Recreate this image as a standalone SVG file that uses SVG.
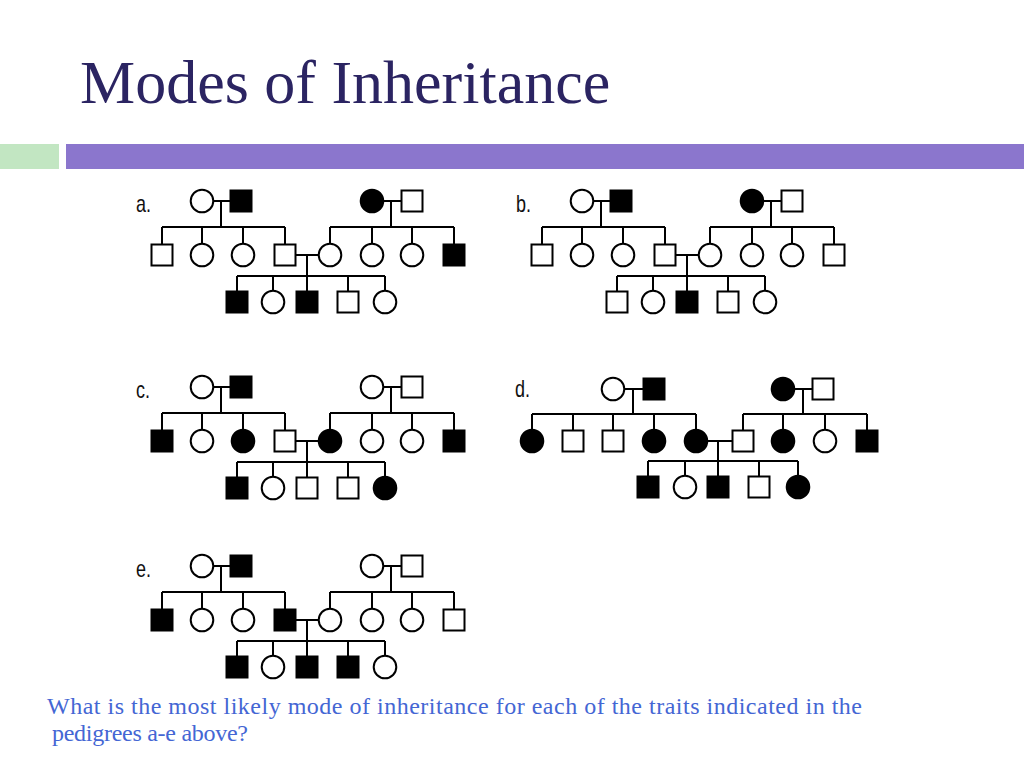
<svg xmlns="http://www.w3.org/2000/svg" xmlns:xlink="http://www.w3.org/1999/xlink" width="1024" height="768" viewBox="0 0 1024 768">
<style>
.ln{fill:none;stroke:#000;stroke-width:2}
.o{fill:#fff;stroke:#000;stroke-width:2}
.f{fill:#000;stroke:#000;stroke-width:2}
.lbl{font-family:"Liberation Sans",Arial,sans-serif;font-size:18px;fill:#111}
.title{font-family:"Liberation Serif","Times New Roman",serif;font-size:62px;fill:#2B2462}
.q{font-family:"Liberation Serif","Times New Roman",serif;font-size:24px;fill:#4466D4}
</style>
<rect width="1024" height="768" fill="#fff"/>
<text class="title" x="80" y="103">Modes of Inheritance</text>
<rect x="0" y="144" width="59" height="25" fill="#C2E6C2"/>
<rect x="66" y="144" width="958" height="25" fill="#8B76CD"/>

<!-- Pedigree a -->
<g id="pedigree-a">
<text class="lbl" transform="translate(136,212) scale(1,1.3)">a.</text>
<g id="a-connectors">
<path class="ln" d="M202 201H241M221 201V227M162 227H285M162 227V255M202 227V255M243 227V255M285 227V255M372 201H412M391 201V227M330 227H454M330 227V255M372 227V255M412 227V255M454 227V255M285 255H330M307 255V276M237 276H385M237 276V302M273 276V302M307 276V302M348 276V302M385 276V302"/>
</g>
<g id="a-I1"><circle class="o" cx="202" cy="201" r="11.3"/></g>
<g id="a-I2"><rect class="f" x="230.5" y="190.5" width="21" height="21"/></g>
<g id="a-I3"><circle class="f" cx="372" cy="201" r="11.3"/></g>
<g id="a-I4"><rect class="o" x="401.5" y="190.5" width="21" height="21"/></g>
<g id="a-II1"><rect class="o" x="151.5" y="244.5" width="21" height="21"/></g>
<g id="a-II2"><circle class="o" cx="202" cy="255" r="11.3"/></g>
<g id="a-II3"><circle class="o" cx="243" cy="255" r="11.3"/></g>
<g id="a-II4"><rect class="o" x="274.5" y="244.5" width="21" height="21"/></g>
<g id="a-II5"><circle class="o" cx="330" cy="255" r="11.3"/></g>
<g id="a-II6"><circle class="o" cx="372" cy="255" r="11.3"/></g>
<g id="a-II7"><circle class="o" cx="412" cy="255" r="11.3"/></g>
<g id="a-II8"><rect class="f" x="443.5" y="244.5" width="21" height="21"/></g>
<g id="a-III1"><rect class="f" x="226.5" y="291.5" width="21" height="21"/></g>
<g id="a-III2"><circle class="o" cx="273" cy="302" r="11.3"/></g>
<g id="a-III3"><rect class="f" x="296.5" y="291.5" width="21" height="21"/></g>
<g id="a-III4"><rect class="o" x="337.5" y="291.5" width="21" height="21"/></g>
<g id="a-III5"><circle class="o" cx="385" cy="302" r="11.3"/></g>
</g>

<!-- Pedigree b -->
<g id="pedigree-b" transform="translate(380,0)">
<text class="lbl" transform="translate(136,212) scale(1,1.3)">b.</text>
<g id="b-connectors">
<path class="ln" d="M202 201H241M221 201V227M162 227H285M162 227V255M202 227V255M243 227V255M285 227V255M372 201H412M391 201V227M330 227H454M330 227V255M372 227V255M412 227V255M454 227V255M285 255H330M307 255V276M237 276H385M237 276V302M273 276V302M307 276V302M348 276V302M385 276V302"/>
</g>
<g id="b-I1"><circle class="o" cx="202" cy="201" r="11.3"/></g>
<g id="b-I2"><rect class="f" x="230.5" y="190.5" width="21" height="21"/></g>
<g id="b-I3"><circle class="f" cx="372" cy="201" r="11.3"/></g>
<g id="b-I4"><rect class="o" x="401.5" y="190.5" width="21" height="21"/></g>
<g id="b-II1"><rect class="o" x="151.5" y="244.5" width="21" height="21"/></g>
<g id="b-II2"><circle class="o" cx="202" cy="255" r="11.3"/></g>
<g id="b-II3"><circle class="o" cx="243" cy="255" r="11.3"/></g>
<g id="b-II4"><rect class="o" x="274.5" y="244.5" width="21" height="21"/></g>
<g id="b-II5"><circle class="o" cx="330" cy="255" r="11.3"/></g>
<g id="b-II6"><circle class="o" cx="372" cy="255" r="11.3"/></g>
<g id="b-II7"><circle class="o" cx="412" cy="255" r="11.3"/></g>
<g id="b-II8"><rect class="o" x="443.5" y="244.5" width="21" height="21"/></g>
<g id="b-III1"><rect class="o" x="226.5" y="291.5" width="21" height="21"/></g>
<g id="b-III2"><circle class="o" cx="273" cy="302" r="11.3"/></g>
<g id="b-III3"><rect class="f" x="296.5" y="291.5" width="21" height="21"/></g>
<g id="b-III4"><rect class="o" x="337.5" y="291.5" width="21" height="21"/></g>
<g id="b-III5"><circle class="o" cx="385" cy="302" r="11.3"/></g>
</g>

<!-- Pedigree c -->
<g id="pedigree-c" transform="translate(0,186)">
<text class="lbl" transform="translate(136,212) scale(1,1.3)">c.</text>
<g id="c-connectors">
<path class="ln" d="M202 201H241M221 201V227M162 227H285M162 227V255M202 227V255M243 227V255M285 227V255M372 201H412M391 201V227M330 227H454M330 227V255M372 227V255M412 227V255M454 227V255M285 255H330M307 255V276M237 276H385M237 276V302M273 276V302M307 276V302M348 276V302M385 276V302"/>
</g>
<g id="c-I1"><circle class="o" cx="202" cy="201" r="11.3"/></g>
<g id="c-I2"><rect class="f" x="230.5" y="190.5" width="21" height="21"/></g>
<g id="c-I3"><circle class="o" cx="372" cy="201" r="11.3"/></g>
<g id="c-I4"><rect class="o" x="401.5" y="190.5" width="21" height="21"/></g>
<g id="c-II1"><rect class="f" x="151.5" y="244.5" width="21" height="21"/></g>
<g id="c-II2"><circle class="o" cx="202" cy="255" r="11.3"/></g>
<g id="c-II3"><circle class="f" cx="243" cy="255" r="11.3"/></g>
<g id="c-II4"><rect class="o" x="274.5" y="244.5" width="21" height="21"/></g>
<g id="c-II5"><circle class="f" cx="330" cy="255" r="11.3"/></g>
<g id="c-II6"><circle class="o" cx="372" cy="255" r="11.3"/></g>
<g id="c-II7"><circle class="o" cx="412" cy="255" r="11.3"/></g>
<g id="c-II8"><rect class="f" x="443.5" y="244.5" width="21" height="21"/></g>
<g id="c-III1"><rect class="f" x="226.5" y="291.5" width="21" height="21"/></g>
<g id="c-III2"><circle class="o" cx="273" cy="302" r="11.3"/></g>
<g id="c-III3"><rect class="o" x="296.5" y="291.5" width="21" height="21"/></g>
<g id="c-III4"><rect class="o" x="337.5" y="291.5" width="21" height="21"/></g>
<g id="c-III5"><circle class="f" cx="385" cy="302" r="11.3"/></g>
</g>

<!-- Pedigree d -->
<g id="pedigree-d">
<text class="lbl" transform="translate(515,397) scale(1,1.3)">d.</text>
<g id="d-connectors">
<path class="ln" d="M613 389H654M633 389V414M532 414H696M532 414V441M573 414V441M613 414V441M654 414V441M696 414V441M783 389H823M803 389V414M743 414H867M743 414V441M783 414V441M825 414V441M867 414V441M696 441H743M718 441V461M648 461H798M648 461V487M685 461V487M718 461V487M759 461V487M798 461V487"/>
</g>
<g id="d-I1"><circle class="o" cx="613" cy="389" r="11.3"/></g>
<g id="d-I2"><rect class="f" x="643.5" y="378.5" width="21" height="21"/></g>
<g id="d-I3"><circle class="f" cx="783" cy="389" r="11.3"/></g>
<g id="d-I4"><rect class="o" x="812.5" y="378.5" width="21" height="21"/></g>
<g id="d-II1"><circle class="f" cx="532" cy="441" r="11.3"/></g>
<g id="d-II2"><rect class="o" x="562.5" y="430.5" width="21" height="21"/></g>
<g id="d-II3"><rect class="o" x="602.5" y="430.5" width="21" height="21"/></g>
<g id="d-II4"><circle class="f" cx="654" cy="441" r="11.3"/></g>
<g id="d-II5"><circle class="f" cx="696" cy="441" r="11.3"/></g>
<g id="d-II6"><rect class="o" x="732.5" y="430.5" width="21" height="21"/></g>
<g id="d-II7"><circle class="f" cx="783" cy="441" r="11.3"/></g>
<g id="d-II8"><circle class="o" cx="825" cy="441" r="11.3"/></g>
<g id="d-II9"><rect class="f" x="856.5" y="430.5" width="21" height="21"/></g>
<g id="d-III1"><rect class="f" x="637.5" y="476.5" width="21" height="21"/></g>
<g id="d-III2"><circle class="o" cx="685" cy="487" r="11.3"/></g>
<g id="d-III3"><rect class="f" x="707.5" y="476.5" width="21" height="21"/></g>
<g id="d-III4"><rect class="o" x="748.5" y="476.5" width="21" height="21"/></g>
<g id="d-III5"><circle class="f" cx="798" cy="487" r="11.3"/></g>
</g>

<!-- Pedigree e -->
<g id="pedigree-e" transform="translate(0,365)">
<text class="lbl" transform="translate(136,212) scale(1,1.3)">e.</text>
<g id="e-connectors">
<path class="ln" d="M202 201H241M221 201V227M162 227H285M162 227V255M202 227V255M243 227V255M285 227V255M372 201H412M391 201V227M330 227H454M330 227V255M372 227V255M412 227V255M454 227V255M285 255H330M307 255V276M237 276H385M237 276V302M273 276V302M307 276V302M348 276V302M385 276V302"/>
</g>
<g id="e-I1"><circle class="o" cx="202" cy="201" r="11.3"/></g>
<g id="e-I2"><rect class="f" x="230.5" y="190.5" width="21" height="21"/></g>
<g id="e-I3"><circle class="o" cx="372" cy="201" r="11.3"/></g>
<g id="e-I4"><rect class="o" x="401.5" y="190.5" width="21" height="21"/></g>
<g id="e-II1"><rect class="f" x="151.5" y="244.5" width="21" height="21"/></g>
<g id="e-II2"><circle class="o" cx="202" cy="255" r="11.3"/></g>
<g id="e-II3"><circle class="o" cx="243" cy="255" r="11.3"/></g>
<g id="e-II4"><rect class="f" x="274.5" y="244.5" width="21" height="21"/></g>
<g id="e-II5"><circle class="o" cx="330" cy="255" r="11.3"/></g>
<g id="e-II6"><circle class="o" cx="372" cy="255" r="11.3"/></g>
<g id="e-II7"><circle class="o" cx="412" cy="255" r="11.3"/></g>
<g id="e-II8"><rect class="o" x="443.5" y="244.5" width="21" height="21"/></g>
<g id="e-III1"><rect class="f" x="226.5" y="291.5" width="21" height="21"/></g>
<g id="e-III2"><circle class="o" cx="273" cy="302" r="11.3"/></g>
<g id="e-III3"><rect class="f" x="296.5" y="291.5" width="21" height="21"/></g>
<g id="e-III4"><rect class="f" x="337.5" y="291.5" width="21" height="21"/></g>
<g id="e-III5"><circle class="o" cx="385" cy="302" r="11.3"/></g>
</g>

<text class="q" x="47" y="714" textLength="815">What is the most likely mode of inheritance for each of the traits indicated in the</text>
<text class="q" x="52" y="741" textLength="196"> pedigrees a-e above?</text>
</svg>
